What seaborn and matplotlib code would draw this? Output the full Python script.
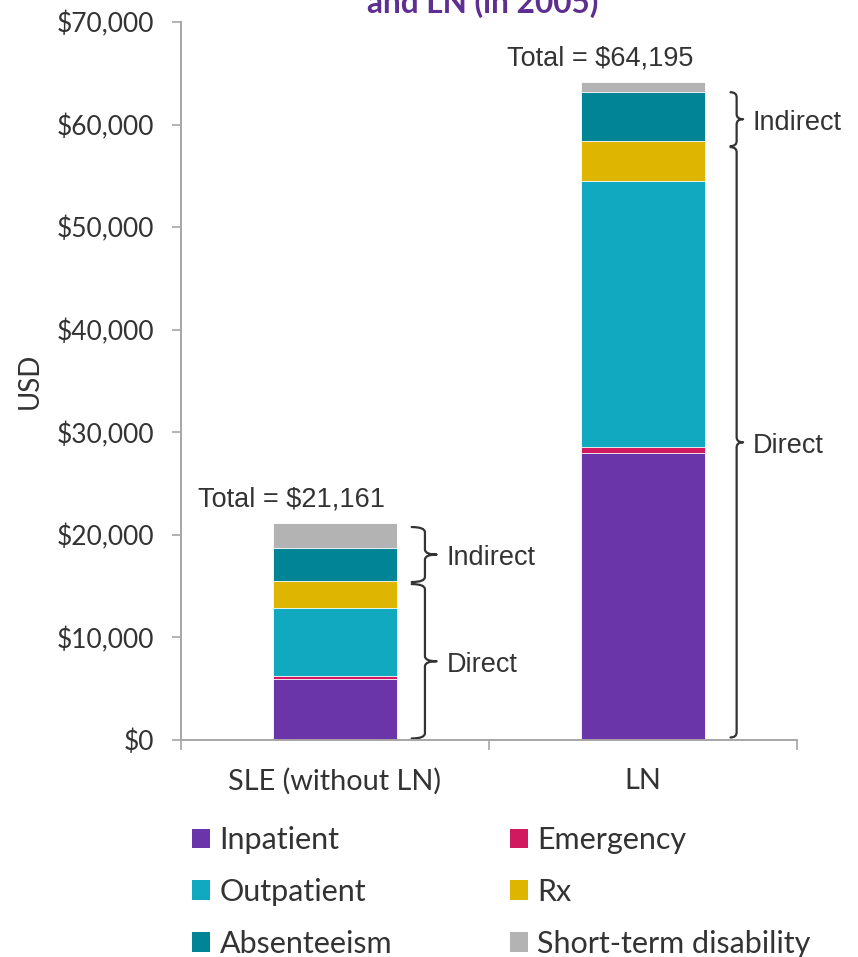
import matplotlib
matplotlib.use("Agg")
import matplotlib.pyplot as plt
from matplotlib.path import Path
from matplotlib.patches import PathPatch, Patch
import numpy as np
import pandas as pd
import seaborn as sns

# ---- data -------------------------------------------------------------
conditions = ["SLE (without LN)", "LN"]
components = ["Inpatient", "Emergency", "Outpatient", "Rx",
              "Absenteeism", "Short-term disability"]
inpatient = [5920, 28000]
emergency = [320, 590]
outpatient = [6660, 25890]
rx = [2570, 3930]
absenteeism = [3270, 4720]
short_term_disability = [2421, 1065]
totals = [21161, 64195]
y_ticks = [0, 10000, 20000, 30000, 40000, 50000, 60000, 70000]

# ---- styles -----------------------------------------------------------
colors = ["#6935A8", "#D1195F", "#10A9BF", "#DEB500", "#028497", "#B3B3B3"]
title_color = "#5E2E91"
text_color = "#333333"
spine_color = "#A6A6A6"

series = [inpatient, emergency, outpatient, rx, absenteeism, short_term_disability]
df = pd.DataFrame({"condition": conditions})
for name, vals in zip(components, series):
    df[name] = vals
cum = df[components].cumsum(axis=1)
cum["condition"] = df["condition"]

sns.set_theme(style="white")
plt.rcParams["font.family"] = ["Lato", "DejaVu Sans"]

fig = plt.figure(figsize=(8.58, 9.57), dpi=100)
ax = fig.add_axes([181 / 858, 1 - 740 / 957, 616 / 858, 718 / 957])

# stacked bars: draw cumulative heights from the top layer down
for name, col in reversed(list(zip(components, colors))):
    sns.barplot(data=cum, x="condition", y=name,
                color=col, width=0.4, saturation=1, ax=ax,
                edgecolor="white", linewidth=0.6)

ax.set_xlim(-0.5, 1.5)
ax.set_ylim(0, 70000)
ax.set_yticks(y_ticks)
ax.set_yticklabels([f"${v:,.0f}" for v in y_ticks])
ax.set_xlabel("")
ax.set_ylabel("USD", fontsize=20, color=text_color)
ax.yaxis.set_label_coords(-0.225, 0.5)

for s in ["top", "right"]:
    ax.spines[s].set_visible(False)
for s in ["left", "bottom"]:
    ax.spines[s].set_color(spine_color)
    ax.spines[s].set_linewidth(1.4)

ax.tick_params(axis="y", which="major", left=True, length=6.5, width=1.2,
               color=spine_color, labelsize=19, labelcolor=text_color, pad=13)
ax.set_xticks([-0.5, 0.5, 1.5], minor=True)
ax.tick_params(axis="x", which="major", bottom=False, length=0,
               labelsize=20.8, labelcolor=text_color, pad=20)
ax.tick_params(axis="x", which="minor", bottom=True, length=7, width=1.2,
               color=spine_color)

# total labels above each bar
for i, t in enumerate(totals):
    ax.text(i - 0.14, t + 2250, f"Total = ${t:,.0f}", ha="center", va="center",
            fontsize=19.5, color=text_color, family=["Liberation Sans", "DejaVu Sans"])


def brace(ax, x_end, x_spine, x_tip, y_top, y_bot, r):
    """Right-facing curly brace in data coordinates."""
    y_mid = (y_top + y_bot) / 2
    verts = [
        (x_end, y_top), (x_spine, y_top), (x_spine, y_top - r),
        (x_spine, y_mid + r),
        (x_spine, y_mid), (x_tip, y_mid),
        (x_spine, y_mid), (x_spine, y_mid - r),
        (x_spine, y_bot + r),
        (x_spine, y_bot), (x_end, y_bot),
    ]
    codes = [Path.MOVETO, Path.CURVE3, Path.CURVE3, Path.LINETO,
             Path.CURVE3, Path.CURVE3, Path.CURVE3, Path.CURVE3,
             Path.LINETO, Path.CURVE3, Path.CURVE3]
    ax.add_patch(PathPatch(Path(verts, codes), fill=False, lw=1.6,
                           edgecolor="#333333", capstyle="round",
                           joinstyle="round", clip_on=False))
    return y_mid


# brace geometry per bar: x offsets from bar centre, and vertical spans
brace_x = [(0.249, 0.292, 0.330, 0.363), (0.284, 0.304, 0.325, 0.356)]
brace_spans = [
    [("Indirect", 15400, 20760), ("Direct", 150, 15200)],
    [("Indirect", 57900, 63150), ("Direct", 250, 57800)],
]
for i, (xs, spans) in enumerate(zip(brace_x, brace_spans)):
    x_end, x_spine, x_tip, x_text = xs
    for label, lo, hi in spans:
        y_mid = brace(ax, i + x_end, i + x_spine, i + x_tip, hi, lo, 500)
        ax.text(i + x_text, y_mid - 350, label, ha="left", va="center",
                fontsize=19.5, color=text_color,
                family=["Liberation Sans", "DejaVu Sans"])

# partial title at the top edge
fig.text(0.563, 1 - 13 / 957, "and LN (in 2005)", ha="center", va="baseline",
         fontsize=22.8, fontweight="bold", color=title_color)

# legend laid out row by row
handles = [Patch(facecolor=c, edgecolor="none") for c in colors]
order = [0, 2, 4, 1, 3, 5]
fig.legend([handles[k] for k in order], [components[k] for k in order],
           ncol=2, loc="upper left",
           bbox_to_anchor=(192 / 858, 1 - 826 / 957),
           frameon=False, fontsize=22, labelcolor=text_color,
           handlelength=0.6, handleheight=0.6, handletextpad=0.3,
           labelspacing=0.78, columnspacing=3.85, borderpad=0, borderaxespad=0)

fig.savefig("out.png", dpi=100)
